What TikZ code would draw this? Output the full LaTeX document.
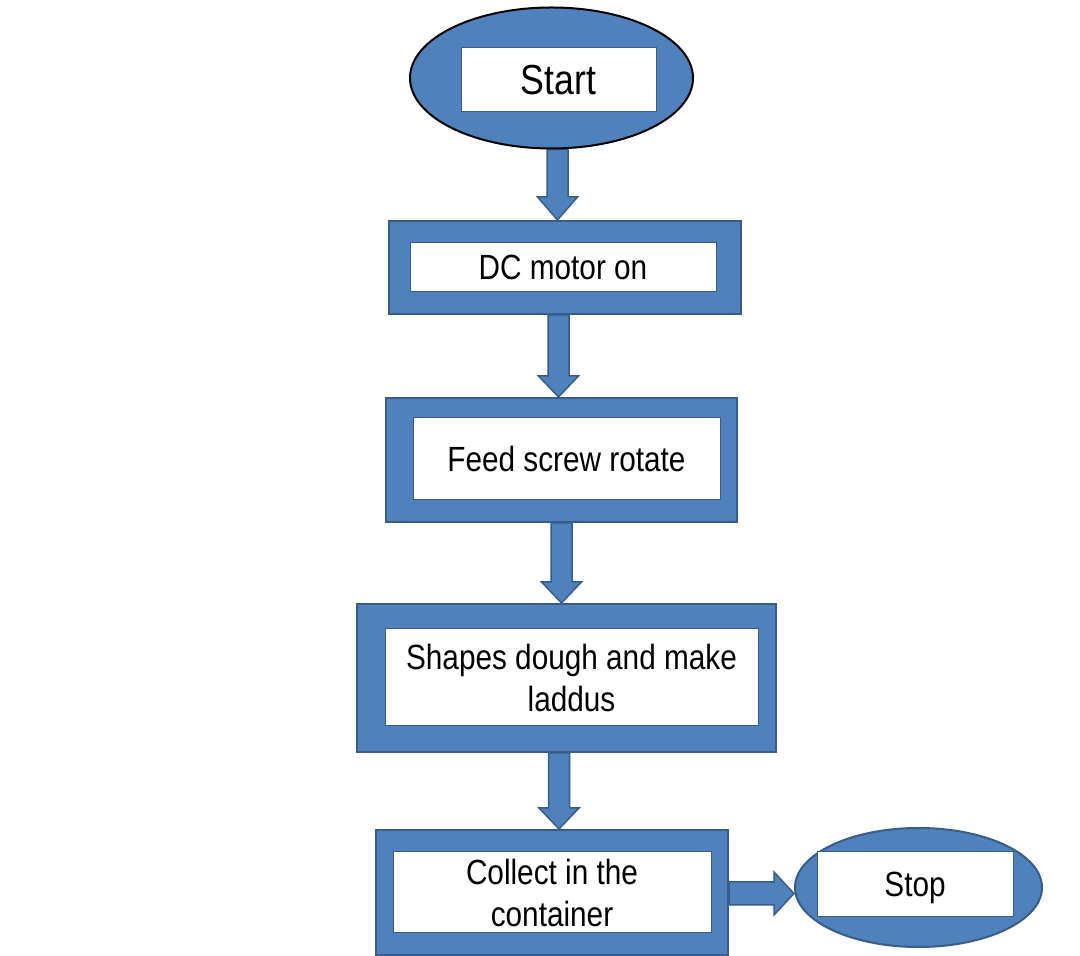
\documentclass[tikz,border=0pt]{standalone}
\usepackage{fontspec}
\setmainfont{Liberation Sans}[FakeStretch=0.85]
\usetikzlibrary{shapes.geometric,calc,backgrounds}
\definecolor{boxfill}{HTML}{4F81BD}
\definecolor{boxline}{HTML}{385D8A}
\tikzset{
  outerbox/.style={draw=boxline, line width=2pt, fill=boxfill, rectangle, inner sep=0pt},
  innerbox/.style={draw=boxline, line width=1pt, fill=white, rectangle, inner sep=0pt, align=center,
     font=\fontsize{35}{42}\selectfont},
  termell/.style={ellipse, fill=boxfill, line width=2pt, inner sep=0pt},
  blockarrow/.style={draw=boxline, line width=1.5pt, fill=boxfill, line join=miter}
}
\newcommand{\blockdown}[4]{% x, from, to, head length
  \path[blockarrow] let \p1=(#2), \p2=(#3) in
    (#1pt-10.5pt,\y1) -- (#1pt+10.5pt,\y1) -- (#1pt+10.5pt,\y2+#4pt) -- (#1pt+20pt,\y2+#4pt)
    -- (#1pt,\y2) -- (#1pt-20pt,\y2+#4pt) -- (#1pt-10.5pt,\y2+#4pt) -- cycle;}
\begin{document}
\begin{tikzpicture}[x=1pt,y=1pt]
\useasboundingbox (0,0) rectangle (1080,956);
% terminals and boxes
\node[termell, draw=black, minimum width=283pt, minimum height=141pt] (start) at (551.5,878) {};
\node[innerbox, minimum width=195pt, minimum height=64pt, font=\fontsize{42}{50}\selectfont] (starttxt) at (558.5,876) {Start};

\node[outerbox, minimum width=352pt, minimum height=93pt] (dc) at (565,688.5) {};
\node[innerbox, minimum width=306pt, minimum height=49pt] (dctxt) at (563,688.5) {DC motor on};

\node[outerbox, minimum width=351pt, minimum height=124pt] (feed) at (561.5,496) {};
\node[innerbox, minimum width=307pt, minimum height=82pt] (feedtxt) at (566.5,497) {Feed screw rotate};

\node[outerbox, minimum width=419pt, minimum height=148pt] (shapes) at (566.5,278) {};
\node[innerbox, minimum width=373pt, minimum height=97pt] (shapestxt) at (571.5,278.5) {Shapes dough and make\\laddus};

\node[outerbox, minimum width=352pt, minimum height=125pt] (collect) at (552,63.5) {};
\node[innerbox, minimum width=318pt, minimum height=81pt] (collecttxt) at (552,63.5) {Collect in the\\container};

\node[termell, draw=boxline, minimum width=247pt, minimum height=119pt] (stop) at (918.5,68.5) {};
\node[innerbox, minimum width=196pt, minimum height=65pt, text height=25pt, text depth=0pt] (stoptxt) at (915,71.5) {Stop};

% block arrows
\begin{scope}[on background layer]
\blockdown{557.5}{start.south}{dc.north}{23}
\blockdown{558.5}{dc.south}{feed.north}{21}
\blockdown{561.5}{feed.south}{shapes.north}{21}
\blockdown{559}{shapes.south}{collect.north}{21}
\path[blockarrow] let \p1=(collect.east), \p2=(stop.west) in
  (\x1,62.5+11.5) -- (\x2-20pt,62.5+11.5) -- (\x2-20pt,62.5+21.5) -- (\x2,62.5)
  -- (\x2-20pt,62.5-21.5) -- (\x2-20pt,62.5-11.5) -- (\x1,62.5-11.5) -- cycle;
\end{scope}
\end{tikzpicture}
\end{document}
